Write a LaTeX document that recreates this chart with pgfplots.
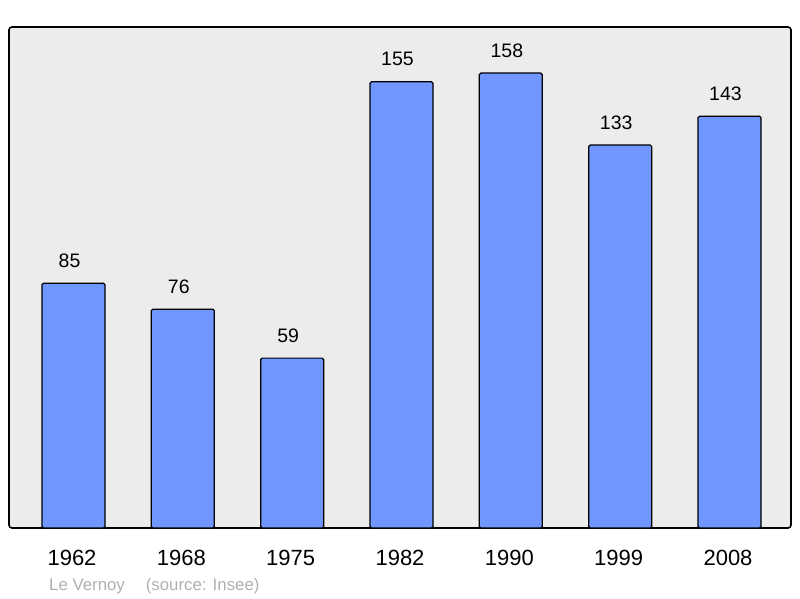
\documentclass[border=0pt]{standalone}
\usepackage{pgfplots}
\pgfplotsset{compat=1.18}
\usepackage{fontspec}
\setmainfont{Liberation Sans}
\definecolor{barblue}{HTML}{7096FF}
\definecolor{panel}{HTML}{ECECEC}
\definecolor{capgray}{HTML}{B0B0B0}

\begin{document}
\begin{tikzpicture}
\begin{axis}[
  scale only axis,
  width=782pt, height=501pt,
  xmin=-0.59, xmax=6.5625,
  ymin=0, ymax=174,
  axis line style={draw=none},
  axis background/.style={fill=panel, draw=black, line width=1.6pt, rounded corners=3pt},
  xtick={0,...,6},
  xticklabels={1962,1968,1975,1982,1990,1999,2008},
  ytick=\empty,
  major tick length=0pt,
  xticklabel style={anchor=base, yshift=-37pt, xshift=-1.5pt, inner sep=0pt, font=\fontsize{22}{26}\selectfont},
  ybar, bar width=63pt,
  nodes near coords,
  /pgf/number format/assume math mode=true,
  every node near coord/.append style={inner sep=0pt, yshift=15pt, xshift=-4pt, font=\fontsize{19.5}{23}\selectfont},
  clip=false,
]
\addplot[fill=barblue, draw=black, line width=1.2pt, rounded corners=1.5pt] coordinates {
  (0,85) (1,76) (2,59) (3,155) (4,158) (5,133) (6,143)
};
\path (rel axis cs:0,0) ++(-9pt,-70pt) coordinate (bl);
\path (bl) rectangle ++(800pt,598pt);
\node[anchor=base west, inner sep=0pt, text=capgray, font=\fontsize{16.8}{20}\selectfont]
  at ([xshift=49pt, yshift=7.3pt]bl) {Le Vernoy\hspace{21pt}(source: Insee)};
\end{axis}
\end{tikzpicture}
\end{document}
